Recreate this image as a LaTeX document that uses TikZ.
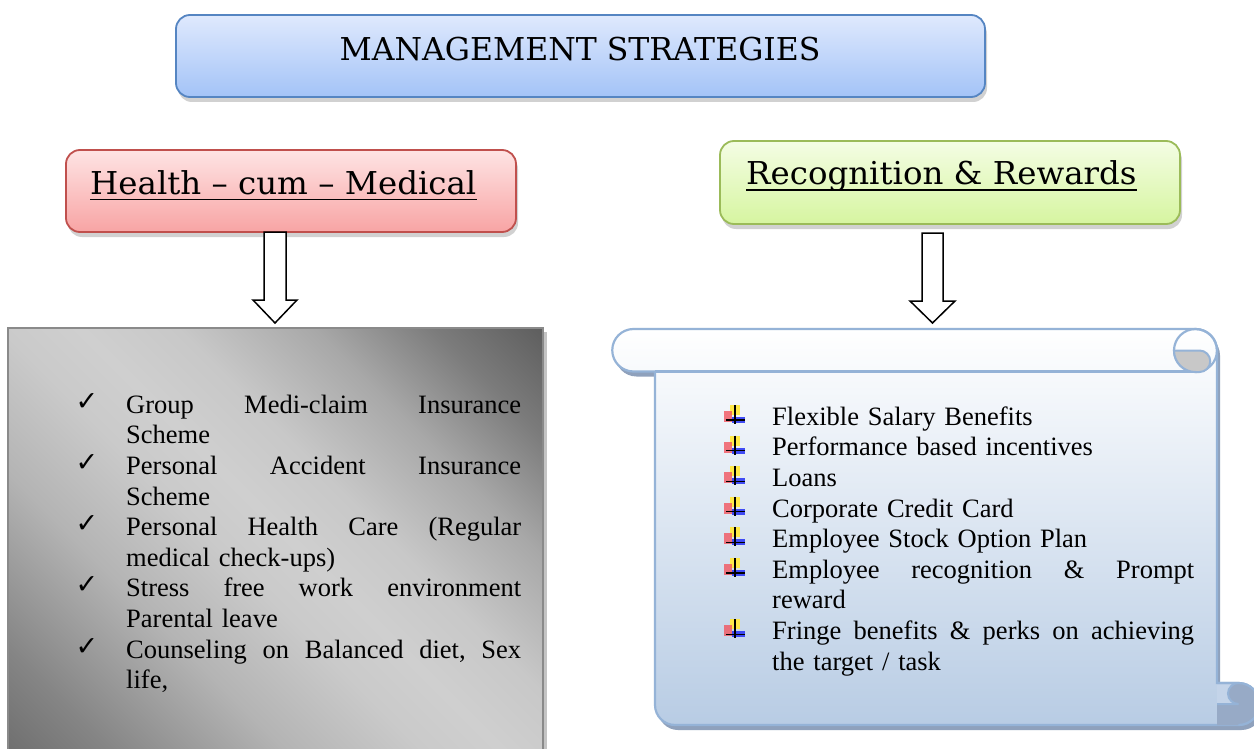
\documentclass[tikz,border=0pt]{standalone}
\usepackage{fontspec}
\setmainfont{Liberation Serif}
\newfontfamily\headfont{DejaVu Serif}
\newfontfamily\headfontwide[FakeStretch=1.03]{DejaVu Serif}
\newfontfamily\symfont{DejaVu Sans}

% box colours
\definecolor{tbtop}{HTML}{DFE9FD}
\definecolor{tbbot}{HTML}{A3C3F7}
\definecolor{tbline}{HTML}{5585C2}
\definecolor{rdtop}{HTML}{FEE4E4}
\definecolor{rdbot}{HTML}{F8A4A4}
\definecolor{rdline}{HTML}{C0504D}
\definecolor{gntop}{HTML}{F4FDE4}
\definecolor{gnbot}{HTML}{D6F5A0}
\definecolor{gnline}{HTML}{9BBB59}
% scroll colours
\definecolor{scline}{HTML}{95B3D7}
\definecolor{scbot}{HTML}{B8CCE4}
\definecolor{scshadow}{HTML}{8FA1BC}
\definecolor{scdark}{HTML}{97AAC6}
\definecolor{sctab}{HTML}{C4D4E9}
\definecolor{curlgrey}{HTML}{C8C8C8}
% brushed-metal panel
\definecolor{mgA}{HTML}{6C6C6C}
\definecolor{mgB}{HTML}{858585}
\definecolor{mgC}{HTML}{B4B4B4}
\definecolor{mgD}{HTML}{CACACA}
\definecolor{mgE}{HTML}{CFCFCF}
\definecolor{mgF}{HTML}{C8C8C8}
\definecolor{mgG}{HTML}{A8A8A8}
\definecolor{mgH}{HTML}{7C7C7C}
\definecolor{mgI}{HTML}{5C5C5C}
\definecolor{panelline}{HTML}{8A8A8A}
\definecolor{panelshadow}{HTML}{C4C4C4}
% bullet icon colours
\definecolor{bulyel}{HTML}{FFE94A}
\definecolor{bulred}{HTML}{F2555F}
\definecolor{bulblue}{HTML}{2E3AF5}

% light band running from the top left to the bottom right, dark at the two other corners
\pgfdeclareverticalshading{metalgrey}{100bp}{color(0bp)=(mgA); color(25bp)=(mgA);
  color(31bp)=(mgB); color(40bp)=(mgC); color(47bp)=(mgD); color(51bp)=(mgE);
  color(56bp)=(mgF); color(63bp)=(mgG); color(69bp)=(mgH); color(75bp)=(mgI); color(100bp)=(mgI)}

\newcommand{\ckmark}{\leavevmode\llap{\raisebox{3pt}{\symfont\fontsize{27}{27}\selectfont ✓}\hspace{28pt}}}
\newcommand{\fullline}[2]{\leavevmode\hbox to #1{#2}}

\begin{document}
\begin{tikzpicture}[x=1pt,y=1pt,
  rbox/.style={rounded corners=14pt, line width=1.8pt, inner sep=0},
  boxshadow/.style={fill=black, opacity=0.18, rounded corners=14pt},
  titletxt/.style={font=\headfont\fontsize{31.5}{36}\selectfont, inner sep=0},
  headtxt/.style={font=\headfontwide\fontsize{31.5}{36}\selectfont, inner sep=0},
  listtxt/.style={font=\fontsize{26.5}{30.6}\selectfont, inner sep=0, align=left},
  hollow/.style={draw=black, fill=white, line width=1.5pt, line join=miter},
  uline/.style={line width=1.6pt},
  scrollshape/.style={insert path={(633.5,-329) -- (1195.5,-329)
      arc[start angle=90, end angle=0, radius=21.5] -- (1217,-683) -- (1238.5,-683)
      arc[start angle=90, end angle=-90, radius=21] -- (675,-725)
      arc[start angle=270, end angle=180, radius=20] -- (655,-371.5) -- (633.5,-371.5)
      arc[start angle=270, end angle=90, radius=21.25] -- cycle}},
  pics/bul/.style={code={
      \fill[bulyel] (-5,20) rectangle (5,10);
      \fill[bulred, opacity=0.8] (-11,14) rectangle (-3,3);
      \fill[bulblue, opacity=0.9] (-3,8) rectangle (10,2);
      \draw[black, line width=1.1pt] (0,20) -- (0,1);
      \draw[black, line width=1.1pt] (-9,5) -- (10,5);
  }}]

\path[use as bounding box, fill=white] (0,0) rectangle (1254,-749);

% ---- heading ----
\fill[boxshadow] (178,-20) rectangle (987,-102);
\node[rbox, top color=tbtop, bottom color=tbbot, draw=tbline,
      minimum width=809pt, minimum height=82pt] (titlebox) at (580.5,-56) {};
\node[titletxt, anchor=base] (titletext) at (580,-61) {MANAGEMENT STRATEGIES};

% ---- left branch ----
\fill[boxshadow] (68,-155) rectangle (518,-237);
\node[rbox, top color=rdtop, bottom color=rdbot, draw=rdline,
      minimum width=450pt, minimum height=82pt] (healthbox) at (291,-191) {};
\node[headtxt, anchor=base west] (healthtext) at (90,-195) {Health – cum – Medical};
\draw[uline] ([yshift=-4.5pt]healthtext.base west) -- ([yshift=-4.5pt]healthtext.base east);

% ---- right branch ----
\fill[boxshadow] (722,-146) rectangle (1182,-229);
\node[rbox, top color=gntop, bottom color=gnbot, draw=gnline,
      minimum width=460pt, minimum height=83pt] (rewardbox) at (950,-182.5) {};
\node[headtxt, anchor=base west] (rewardtext) at (746,-185) {Recognition \& Rewards};
\draw[uline] ([yshift=-5pt]rewardtext.base west) -- ([yshift=-5pt]rewardtext.base east);

% ---- grey panel with the health measures ----
\node[minimum width=535pt, minimum height=432pt, inner sep=0] (healthpanel) at (275.5,-544) {};
\fill[panelshadow] ([shift={(4,-4)}]healthpanel.south west) rectangle ([shift={(4,-4)}]healthpanel.north east);
\begin{scope}
  \clip (healthpanel.south west) rectangle (healthpanel.north east);
  \shade[shading=metalgrey, transform canvas={rotate around={-45:(healthpanel.center)}}]
    ([shift={(-346,-346)}]healthpanel.center) rectangle ([shift={(346,346)}]healthpanel.center);
\end{scope}
\draw[panelline, line width=1.5pt] (healthpanel.south west) rectangle (healthpanel.north east);

\node[listtxt, text width=395pt, anchor=north west] (healthlist) at (126,-391.6) {%
\strut\ckmark\fullline{395pt}{Group\hfill Medi-claim\hfill Insurance}\\%
Scheme\\%
\ckmark\fullline{395pt}{Personal\hfill Accident\hfill Insurance}\\%
Scheme\\%
\ckmark\fullline{395pt}{Personal\hfill Health\hfill Care\hfill (Regular}\\%
medical check-ups)\\%
\ckmark\fullline{395pt}{Stress\hfill free\hfill work\hfill environment}\\%
Parental leave\\%
\ckmark\fullline{395pt}{Counseling\hfill on\hfill Balanced\hfill diet,\hfill Sex}\\%
life,};

% ---- scroll with the reward measures ----
\fill[scshadow, shift={(3,-5)}, scrollshape];
\path[scrollshape, top color=white, bottom color=scbot, draw=scline, line width=2.2pt];
\draw[scline, line width=2.2pt] (655,-371.5) -- (1195.5,-371.5);
% curl at the top right
\draw[scline, line width=2.2pt] (1195.5,-350.5) circle[radius=21.5];
\filldraw[fill=curlgrey, draw=scline, line width=2pt]
  (1174,-350.5) -- (1199.5,-350.5) arc[start angle=90, end angle=-90, radius=10.75]
  -- (1195.5,-372) arc[start angle=270, end angle=180, radius=21.5] -- cycle;
% curl at the bottom right
\fill[scdark] (1217,-704) -- (1217,-725) -- (1238.5,-725)
  arc[start angle=-90, end angle=90, radius=21] -- (1217,-683) -- cycle;
\fill[sctab] (1217,-683) -- (1238.5,-683) arc[start angle=90, end angle=270, radius=10.5]
  -- (1217,-704) -- cycle;
\draw[scline, line width=2pt] (1217,-683) -- (1238.5,-683)
  arc[start angle=90, end angle=270, radius=10.5] -- (1217,-704);
\draw[scline, line width=2.2pt] (1217,-683) -- (1238.5,-683)
  arc[start angle=90, end angle=-90, radius=21];

\node[listtxt, text width=422pt, anchor=north west] (rewardlist) at (772,-403.6) {%
\strut Flexible Salary Benefits\\%
Performance based incentives\\%
Loans\\%
Corporate Credit Card\\%
Employee Stock Option Plan\\%
\fullline{422pt}{Employee\hfill recognition\hfill \&\hfill Prompt}\\%
reward\\%
\fullline{422pt}{Fringe\hfill benefits\hfill \&\hfill perks\hfill on\hfill achieving}\\%
the target / task};
\foreach \k in {0,1,2,3,4,5,7} \pic at (735,{-425-30.6*\k}) {bul};

% ---- block arrows ----
\coordinate (leftarrowtop) at (275,-232);
\coordinate (leftarrowtip) at (275,-323);
\draw[hollow] (leftarrowtop) ++(-11,0) -- ++(0,-68) -- ++(-11,0) -- (leftarrowtip)
  -- ++(22,23) -- ++(-11,0) -- ++(0,68) -- cycle;
\coordinate (rightarrowtop) at (932.5,-233);
\coordinate (rightarrowtip) at (932.5,-323);
\draw[hollow] (rightarrowtop) ++(-10.5,0) -- ++(0,-68) -- ++(-12,0) -- (rightarrowtip)
  -- ++(22.5,22) -- ++(-12,0) -- ++(0,68) -- cycle;

\end{tikzpicture}
\end{document}
